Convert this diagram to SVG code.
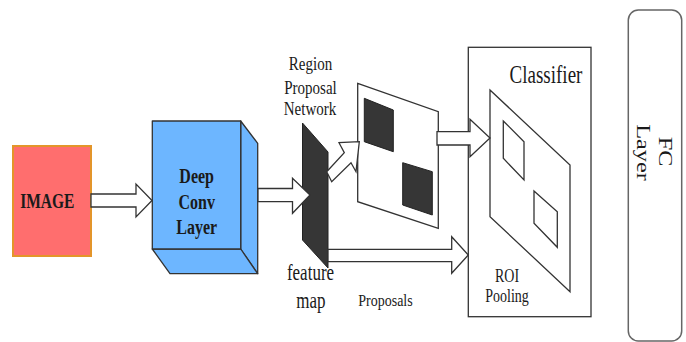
<svg xmlns="http://www.w3.org/2000/svg" width="686" height="342" viewBox="0 0 686 342">
<style>
  text { font-family: "Liberation Serif", "Times New Roman", serif; fill: #1a1a1a; }
  .b { font-weight: bold; }
  .ln { fill: #fff; stroke: #333; stroke-width: 1.3; stroke-linejoin: miter; }
  .dark { fill: #363636; stroke: #222; stroke-width: 1; }
  .blue { fill: #6DB6FF; stroke: #333; stroke-width: 1.3; stroke-linejoin: round; }
  .arrow { fill: #fff; stroke: #333; stroke-width: 1.3; stroke-linejoin: miter; }
</style>
<rect width="686" height="342" fill="#fff"/>

<g id="image">
  <rect x="13" y="146" width="78" height="110" fill="#FF6E6E" stroke="#E3952A" stroke-width="2"/>
  <text class="b" font-size="15.5" text-anchor="middle" transform="translate(47.3,208) scale(1,1.35)">IMAGE</text>
</g>

<g id="deep-conv">
  <polygon class="blue" points="240.7,121 257.7,143.3 257.7,273.7 240.7,249"/>
  <polygon class="blue" points="152.3,249 240.7,249 257.7,273.7 170,273.7"/>
  <rect class="blue" x="152.3" y="121" width="88.4" height="128"/>
  <text class="b" font-size="16" text-anchor="middle" transform="translate(196.7,183) scale(1,1.3)">Deep</text>
  <text class="b" font-size="16" text-anchor="middle" transform="translate(196.7,209) scale(1,1.3)">Conv</text>
  <text class="b" font-size="16" text-anchor="middle" transform="translate(196.7,234) scale(1,1.3)">Layer</text>
</g>

<g id="feature-map">
  <polygon class="dark" points="302.5,123 328,152 328,268 302.5,240"/>
  <text font-size="17" text-anchor="middle" transform="translate(310.5,280) scale(1,1.3)">feature</text>
  <text font-size="17" text-anchor="middle" transform="translate(311,308) scale(1,1.3)">map</text>
</g>

<g id="rpn-label">
  <text font-size="15" text-anchor="middle" transform="translate(310.5,70) scale(1,1.22)">Region</text>
  <text font-size="15" text-anchor="middle" transform="translate(310.5,94) scale(1,1.22)">Proposal</text>
  <text font-size="15" text-anchor="middle" transform="translate(310,115) scale(1,1.22)">Network</text>
</g>

<g id="proposal-image">
  <polygon class="ln" points="357.7,83.3 438.3,111.7 438.3,228.3 357.7,201.7"/>
  <polygon class="dark" points="364.3,98.3 393.3,110 393.3,151.7 364.3,141.7"/>
  <polygon class="dark" points="402.7,162.7 432.3,171.7 432.3,215 402.7,205"/>
</g>

<g id="proposals-label">
  <text font-size="14" text-anchor="middle" transform="translate(385.5,305.7) scale(1,1.25)">Proposals</text>
</g>

<g id="classifier">
  <rect class="ln" x="468.3" y="47.3" width="122.7" height="269.4"/>
  <text font-size="19" text-anchor="middle" transform="translate(546,83.3) scale(1,1.3)">Classifier</text>
  <polygon class="ln" points="490,90 570,165 570,291.7 490,216.7"/>
  <polygon class="ln" points="503.3,121 524,141.7 524,180 503.3,158.3"/>
  <polygon class="ln" points="534,191 557.3,211.7 557.3,247.3 534,223.3"/>
  <text font-size="14" text-anchor="middle" transform="translate(507,282.3) scale(1,1.3)">ROI</text>
  <text font-size="14" text-anchor="middle" transform="translate(507,301.7) scale(1,1.3)">Pooling</text>
</g>

<g id="fc-layer">
  <rect x="628.3" y="10" width="53.4" height="331" rx="10" ry="10" fill="#fff" stroke="#666" stroke-width="1.5"/>
  <text font-size="18" text-anchor="middle" transform="translate(659,151.7) rotate(90) scale(1.35,1)">FC</text>
  <text font-size="18" text-anchor="middle" transform="translate(637,152.5) rotate(90) scale(1.35,1)">Layer</text>
</g>

<g id="connectors">
  <polygon class="arrow" points="91,194 136,194 136,184 152,200.5 136,217 136,207 91,207"/>
  <polygon class="arrow" points="258,188.5 292.5,188.5 292.5,178.3 310,195 292.5,213.3 292.5,201.7 258,201.7"/>
  <polygon class="arrow" points="326.7,171.7 344.3,152.7 339,142.7 359.3,141.7 356,171.7 351,162.7 331.7,181.7"/>
  <polygon class="arrow" points="437,131.7 470,131.7 470,119.3 490,138 470,156.7 470,145 437,145"/>
  <polygon class="arrow" points="328,249.3 451.7,249.3 451.7,236.7 468.3,255 451.7,273.3 451.7,261.7 328,261.7"/>
</g>
</svg>
